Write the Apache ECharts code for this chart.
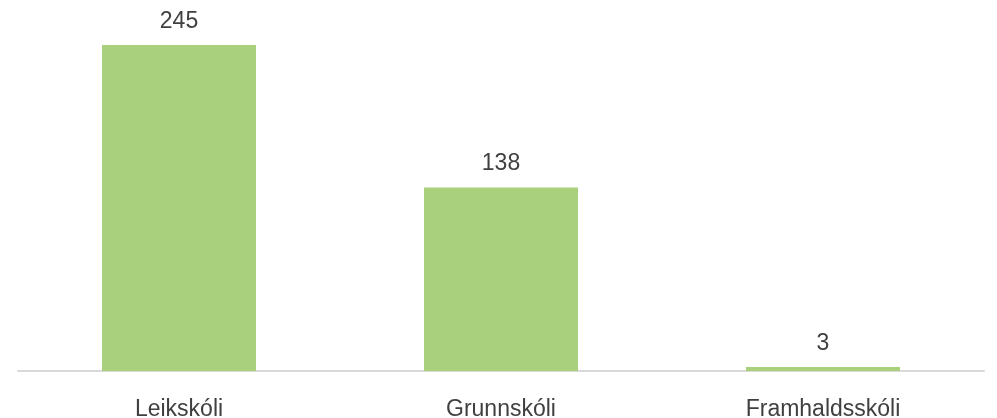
<!DOCTYPE html>
<html>
<head>
<meta charset="utf-8">
<script src="https://cdn.jsdelivr.net/npm/echarts@6/dist/echarts.min.js"></script>
<style>
  html, body { margin: 0; padding: 0; background: #ffffff; }
  #chart { width: 997px; height: 418px; }
</style>
</head>
<body>
<div id="chart"></div>
<script>
// School levels and counts
const categories = ['Leikskóli', 'Grunnskóli', 'Framhaldsskóli'];
const counts = [245, 138, 3];

const chart = echarts.init(document.getElementById('chart'), null, { renderer: 'canvas' });

const textColor = '#404040';
const fontFamily = '"Liberation Sans", Arial, sans-serif';

chart.setOption({
  animation: false,
  grid: {
    left: 18, right: 13, top: 45, bottom: 47,
    containLabel: false,
    outerBoundsMode: 'none'
  },
  xAxis: {
    type: 'category',
    data: categories,
    axisLine: { show: true, lineStyle: { color: '#d9d9d9', width: 2 } },
    axisTick: { show: false },
    axisLabel: {
      color: textColor,
      fontFamily: fontFamily,
      fontSize: 23,
      margin: 27
    }
  },
  yAxis: {
    type: 'value',
    min: 0,
    max: 245,
    show: false,
    splitLine: { show: false }
  },
  series: [{
    type: 'bar',
    data: counts,
    barWidth: 154,
    itemStyle: { color: '#a9d07c' },
    label: {
      show: true,
      position: 'top',
      distance: 12,
      color: textColor,
      fontFamily: fontFamily,
      fontSize: 23
    }
  }]
});
</script>
</body>
</html>
